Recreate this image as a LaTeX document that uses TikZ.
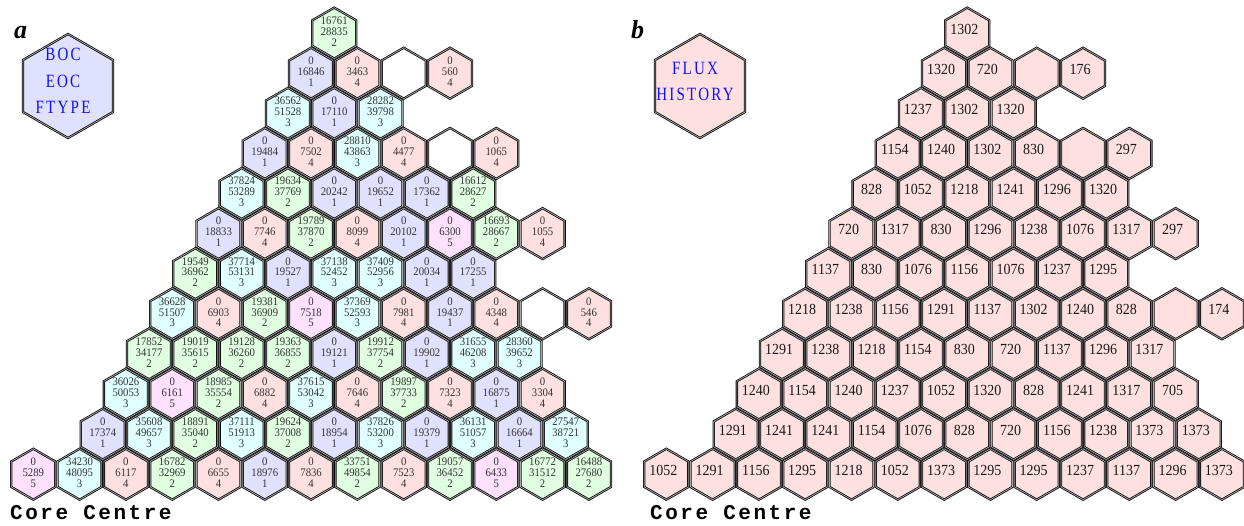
\documentclass[tikz,border=0pt]{standalone}
\usepackage{fontspec}
\usepackage{graphicx}
\setmainfont{Liberation Serif}
\newfontfamily\corefont[LetterSpace=12]{Liberation Mono}
\newfontfamily\legfont[LetterSpace=15]{Liberation Serif}
\usetikzlibrary{shapes.geometric}
\definecolor{t0}{HTML}{FFFFFF}
\definecolor{t1}{HTML}{E0E0FF}
\definecolor{t2}{HTML}{E0FFE0}
\definecolor{t3}{HTML}{E0FFFF}
\definecolor{t4}{HTML}{FFE0E0}
\definecolor{t5}{HTML}{FFE0FF}
\definecolor{legblue}{HTML}{1010FF}
\tikzset{
  hexcell/.style={regular polygon, regular polygon sides=6, shape border rotate=30,
    minimum size=50.9pt, inner sep=0pt, outer sep=0pt, draw=black!95,
    line width=0.8pt, double=black!35, double distance=0.7pt},
  leghex/.style={hexcell, minimum size=104pt},
  atext/.style={font=\fontsize{10.7}{10}\selectfont, text=black!80, inner sep=0pt},
  btext/.style={font=\fontsize{14}{14}\selectfont, text=black!90, inner sep=0pt, xshift=-3pt, yshift=4pt},
  legtext/.style={font=\legfont\fontsize{15}{21.2}\selectfont, text=legblue, inner sep=0pt, xshift=-5pt, yshift=4pt},
  paneltag/.style={font=\fontsize{26}{26}\selectfont\bfseries\itshape, inner sep=0pt, anchor=base west},
  coretag/.style={font=\corefont\bfseries\fontsize{21}{21}\selectfont, inner sep=0pt, anchor=base west}
}
\newcommand\threelines[3]{\scalebox{1}[1.08]{\begin{tabular}{@{}c@{}}#1\\#2\\#3\end{tabular}}}
\begin{document}
\begin{tikzpicture}[x=1pt,y=-1pt]
\useasboundingbox (0,0) rectangle (1244,525);

% ---------- panel a ----------
\node[paneltag] (taga) at (14,38) {a};
\node[leghex, fill=t1, label={[legtext]center:{\scalebox{1}[1.25]{\begin{tabular}{@{}c@{}}BOC\\EOC\\FTYPE\end{tabular}}}}] (lega) at (68,86) {};

\foreach \r/\c/\p/\q/\t in {
 0/0/0/5289/5, 0/1/34230/48095/3, 0/2/0/6117/4, 0/3/16782/32969/2, 0/4/0/6655/4,
 0/5/0/18976/1, 0/6/0/7836/4, 0/7/33751/49854/2, 0/8/0/7523/4, 0/9/19057/36452/2,
 0/10/0/6433/5, 0/11/16772/31512/2, 0/12/16488/27680/2,
 1/1/0/17374/1, 1/2/35608/49657/3, 1/3/18891/35040/2, 1/4/37111/51913/3, 1/5/19624/37008/2,
 1/6/0/18954/1, 1/7/37826/53200/3, 1/8/0/19379/1, 1/9/36131/51057/3, 1/10/0/16664/1,
 1/11/27547/38721/3,
 2/1/36026/50053/3, 2/2/0/6161/5, 2/3/18985/35554/2, 2/4/0/6882/4, 2/5/37615/53042/3,
 2/6/0/7646/4, 2/7/19897/37733/2, 2/8/0/7323/4, 2/9/0/16875/1, 2/10/0/3304/4,
 3/1/17852/34177/2, 3/2/19019/35615/2, 3/3/19128/36260/2, 3/4/19363/36855/2, 3/5/0/19121/1,
 3/6/19912/37754/2, 3/7/0/19902/1, 3/8/31655/46208/3, 3/9/28360/39652/3,
 4/1/36628/51507/3, 4/2/0/6903/4, 4/3/19381/36909/2, 4/4/0/7518/5, 4/5/37369/52593/3,
 4/6/0/7981/4, 4/7/0/19437/1, 4/8/0/4348/4, 4/10/0/546/4,
 5/1/19549/36962/2, 5/2/37714/53131/3, 5/3/0/19527/1, 5/4/37138/52452/3, 5/5/37409/52956/3,
 5/6/0/20034/1, 5/7/0/17255/1,
 6/1/0/18833/1, 6/2/0/7746/4, 6/3/19789/37870/2, 6/4/0/8099/4, 6/5/0/20102/1,
 6/6/0/6300/5, 6/7/16693/28667/2, 6/8/0/1055/4,
 7/1/37824/53289/3, 7/2/19634/37769/2, 7/3/0/20242/1, 7/4/0/19652/1, 7/5/0/17362/1,
 7/6/16612/28627/2,
 8/1/0/19484/1, 8/2/0/7502/4, 8/3/28810/43863/3, 8/4/0/4477/4, 8/6/0/1065/4,
 9/1/36562/51528/3, 9/2/0/17110/1, 9/3/28282/39798/3,
 10/1/0/16846/1, 10/2/0/3463/4, 10/4/0/560/4,
 11/1/16761/28835/2}
{
  \node[hexcell, fill=t\t, label={[atext]center:{\threelines{\p}{\q}{\t}}}]
    (a-\r-\c) at (33.3+46.3*\c+23.15*\r, 474.2-40.1*\r) {};
}
\foreach \r/\c in {4/9, 8/5, 10/3}
{
  \node[hexcell, fill=white] (a-\r-\c) at (33.3+46.3*\c+23.15*\r, 474.2-40.1*\r) {};
}
\node[coretag] (corea) at (10,519) {Core Centre};

% ---------- panel b ----------
\node[paneltag] (tagb) at (631,38) {b};
\node[leghex, fill=t4, label={[legtext]center:{\scalebox{1}[1.25]{\begin{tabular}{@{}c@{}}FLUX\\HISTORY\end{tabular}}}}] (legb) at (700,86) {};

\foreach \r/\c/\v in {
 0/0/1052, 0/1/1291, 0/2/1156, 0/3/1295, 0/4/1218, 0/5/1052, 0/6/1373, 0/7/1295,
 0/8/1295, 0/9/1237, 0/10/1137, 0/11/1296, 0/12/1373,
 1/1/1291, 1/2/1241, 1/3/1241, 1/4/1154, 1/5/1076, 1/6/828, 1/7/720, 1/8/1156,
 1/9/1238, 1/10/1373, 1/11/1373,
 2/1/1240, 2/2/1154, 2/3/1240, 2/4/1237, 2/5/1052, 2/6/1320, 2/7/828, 2/8/1241,
 2/9/1317, 2/10/705,
 3/1/1291, 3/2/1238, 3/3/1218, 3/4/1154, 3/5/830, 3/6/720, 3/7/1137, 3/8/1296, 3/9/1317,
 4/1/1218, 4/2/1238, 4/3/1156, 4/4/1291, 4/5/1137, 4/6/1302, 4/7/1240, 4/8/828, 4/10/174,
 5/1/1137, 5/2/830, 5/3/1076, 5/4/1156, 5/5/1076, 5/6/1237, 5/7/1295,
 6/1/720, 6/2/1317, 6/3/830, 6/4/1296, 6/5/1238, 6/6/1076, 6/7/1317, 6/8/297,
 7/1/828, 7/2/1052, 7/3/1218, 7/4/1241, 7/5/1296, 7/6/1320,
 8/1/1154, 8/2/1240, 8/3/1302, 8/4/830, 8/6/297,
 9/1/1237, 9/2/1302, 9/3/1320,
 10/1/1320, 10/2/720, 10/4/176,
 11/1/1302}
{
  \node[hexcell, fill=t4, label={[btext]center:{\scalebox{1}[1.1]{\v}}}]
    (b-\r-\c) at (666.3+46.3*\c+23.15*\r, 474.2-40.1*\r) {};
}
\foreach \r/\c in {4/9, 8/5, 10/3}
{
  \node[hexcell, fill=t4] (b-\r-\c) at (666.3+46.3*\c+23.15*\r, 474.2-40.1*\r) {};
}
\node[coretag] (coreb) at (650,519) {Core Centre};
\end{tikzpicture}
\end{document}
